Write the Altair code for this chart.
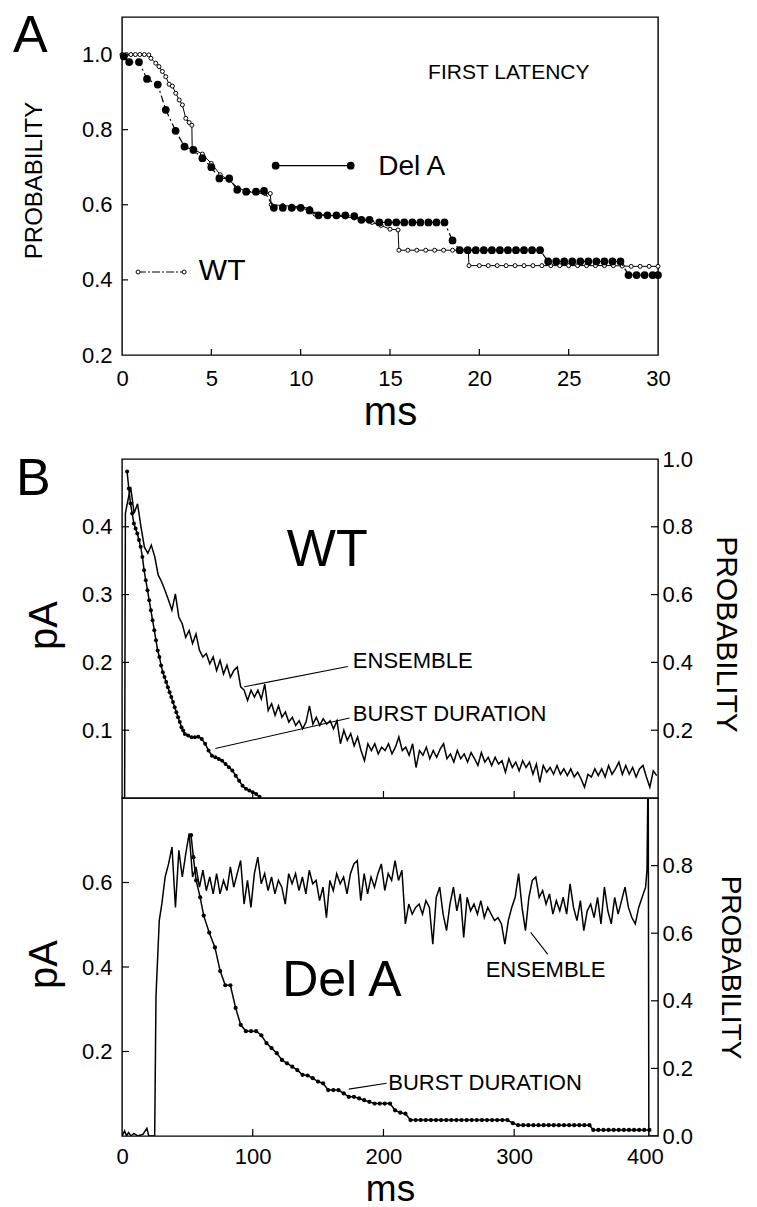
import altair as alt
import pandas as pd

FONT = "Liberation Sans"

# ---------------- Panel A : first latency (ms, probability) ----------------
A_WT = [(0.0, 1.0), (0.25, 1.0), (0.5, 1.0), (0.75, 1.0), (1.0, 1.0), (1.25, 1.0), (1.5, 0.999),
        (1.62, 0.99), (1.89, 0.977), (2.07, 0.968), (2.26, 0.955), (2.45, 0.941), (2.64, 0.921),
        (2.82, 0.916), (3.01, 0.897), (3.2, 0.879), (3.38, 0.866), (3.57, 0.83), (3.76, 0.819),
        (3.91, 0.812), (3.93, 0.75), (4.5, 0.735), (5.0, 0.71), (5.5, 0.68), (6.0, 0.665),
        (6.5, 0.645), (7.0, 0.635), (7.5, 0.632), (8.0, 0.63), (8.3, 0.63), (8.35, 0.60),
        (9.0, 0.598), (9.5, 0.596), (10.0, 0.595), (10.5, 0.59), (10.8, 0.575), (11.5, 0.572),
        (12.0, 0.57), (12.5, 0.568), (13.0, 0.565), (13.5, 0.56), (14.0, 0.553), (14.5, 0.545),
        (15.0, 0.535), (15.45, 0.533), (15.5, 0.479), (16.0, 0.479), (16.5, 0.479), (17.0, 0.479),
        (17.5, 0.479), (18.0, 0.479), (18.5, 0.479), (19.0, 0.479), (19.38, 0.479), (19.42, 0.438),
        (20.0, 0.438), (20.5, 0.438), (21.0, 0.438), (21.5, 0.438), (22.0, 0.438), (22.5, 0.438),
        (23.0, 0.438), (23.5, 0.438), (24.0, 0.438), (24.5, 0.438), (25.0, 0.438), (25.5, 0.438),
        (26.0, 0.438), (26.5, 0.438), (27.0, 0.438), (27.5, 0.438), (28.0, 0.437), (28.5, 0.436),
        (29.0, 0.436), (29.5, 0.436), (30.0, 0.436)]

A_DELA = [(0.1, 0.995), (0.4, 0.98), (0.95, 0.98), (1.4, 0.935), (2.0, 0.92), (2.45, 0.853),
          (3.0, 0.797), (3.5, 0.755), (4.0, 0.746), (4.5, 0.724), (5.0, 0.70), (5.45, 0.67),
          (6.0, 0.67), (6.45, 0.64), (6.95, 0.635), (7.5, 0.635), (7.95, 0.637), (8.5, 0.592),
          (9.0, 0.592), (9.5, 0.592), (10.0, 0.592), (10.5, 0.585), (11.0, 0.572), (11.5, 0.572),
          (12.0, 0.572), (12.5, 0.572), (13.0, 0.57), (13.4, 0.56), (13.85, 0.56), (14.4, 0.553),
          (14.9, 0.553), (15.35, 0.553), (15.8, 0.553), (16.25, 0.553), (16.7, 0.553), (17.15, 0.553),
          (17.6, 0.553), (18.05, 0.553), (18.5, 0.505), (18.9, 0.479), (19.35, 0.479), (19.8, 0.479),
          (20.25, 0.479), (20.7, 0.479), (21.15, 0.479), (21.6, 0.479), (22.05, 0.479), (22.5, 0.479),
          (22.95, 0.479), (23.4, 0.479), (23.85, 0.449), (24.3, 0.449), (24.75, 0.449), (25.2, 0.449),
          (25.65, 0.449), (26.1, 0.449), (26.55, 0.449), (27.0, 0.449), (27.45, 0.449), (27.9, 0.449),
          (28.35, 0.413), (28.8, 0.413), (29.25, 0.413), (29.7, 0.413), (30.0, 0.413)]

A_LEG_DELA = [(8.60, 0.704), (12.80, 0.704)]
A_LEG_WT = [(0.90, 0.421), (3.48, 0.421)]
A_TEXT_CENTER = [("FIRST LATENCY", 21.65, 0.952, 21)]
A_TEXT_LEFT = [("Del A", 14.34, 0.700, 28), ("WT", 4.30, 0.424, 30)]
A_X_VALUES = [0, 5, 10, 15, 20, 25, 30]
A_Y_VALUES = [0.2, 0.4, 0.6, 0.8, 1.0]
A_X_TICKS = [5, 10, 15, 20, 25]
A_Y_TICKS = [0.4, 0.6, 0.8, 1.0]

# ---------------- Panel B, WT (ms, pA / probability) ----------------
WT_ENS_HEAD = [(0.0, 0.0), (2.0, 0.0), (2.6, 0.42)]
WT_ENS_T0, WT_ENS_DT = 4.0, 2.63   # sampling clock of the trace
WT_ENS = [0.434, 0.459, 0.420, 0.434, 0.400, 0.370, 0.361, 0.373, 0.356, 0.329,
          0.319, 0.306, 0.292, 0.277, 0.301, 0.267, 0.257, 0.237, 0.247, 0.228,
          0.242, 0.218, 0.208, 0.213, 0.198, 0.208, 0.188, 0.203, 0.183, 0.196,
          0.178, 0.188, 0.193, 0.164, 0.159, 0.144, 0.159, 0.149, 0.159, 0.146,
          0.168, 0.129, 0.139, 0.122, 0.136, 0.119, 0.127, 0.112, 0.119, 0.107,
          0.114, 0.102, 0.112, 0.136, 0.109, 0.119, 0.107, 0.117, 0.109, 0.114,
          0.102, 0.114, 0.080, 0.100, 0.085, 0.095, 0.077, 0.090, 0.070, 0.055,
          0.080, 0.070, 0.080, 0.065, 0.075, 0.070, 0.080, 0.065, 0.075, 0.090,
          0.070, 0.075, 0.063, 0.080, 0.045, 0.070, 0.063, 0.075, 0.058, 0.070,
          0.060, 0.072, 0.080, 0.058, 0.065, 0.053, 0.070, 0.058, 0.065, 0.053,
          0.067, 0.058, 0.048, 0.067, 0.053, 0.060, 0.048, 0.060, 0.050, 0.055,
          0.038, 0.058, 0.045, 0.053, 0.040, 0.055, 0.045, 0.053, 0.035, 0.050,
          0.023, 0.048, 0.038, 0.045, 0.035, 0.048, 0.035, 0.043, 0.033, 0.043,
          0.031, 0.038, 0.028, 0.016, 0.035, 0.031, 0.043, 0.033, 0.043, 0.031,
          0.048, 0.035, 0.043, 0.053, 0.035, 0.048, 0.035, 0.045, 0.031, 0.043,
          0.048, 0.031, 0.016, 0.040, 0.033]

WT_BURST = [(3.9, 0.963), (5.2, 0.913), (6.5, 0.869), (7.8, 0.839), (9.1, 0.810), (10.4, 0.795),
            (11.7, 0.780), (13.0, 0.761), (14.3, 0.741), (15.6, 0.711), (16.9, 0.672), (18.2, 0.642),
            (19.5, 0.613), (20.8, 0.583), (22.1, 0.554), (23.4, 0.524), (24.7, 0.495), (26.0, 0.465),
            (27.3, 0.435), (28.6, 0.416), (29.9, 0.391), (31.2, 0.371), (32.5, 0.357), (33.8, 0.342),
            (35.1, 0.327), (36.4, 0.312), (37.7, 0.298), (39.0, 0.283), (40.3, 0.268), (41.6, 0.253),
            (42.9, 0.238), (44.2, 0.224), (45.5, 0.209), (46.8, 0.199), (48.1, 0.189), (50.6, 0.184),
            (53.2, 0.179), (55.8, 0.179), (58.4, 0.181), (61.0, 0.174), (63.6, 0.160), (66.2, 0.140),
            (68.8, 0.125), (71.4, 0.120), (74.0, 0.115), (76.6, 0.110), (79.2, 0.100), (81.8, 0.091),
            (84.4, 0.081), (87.0, 0.066), (89.6, 0.051), (92.2, 0.036), (94.8, 0.027), (97.4, 0.022),
            (100.0, 0.017), (102.6, 0.012), (105.2, 0.004)]

WT_TEXT_CENTER = [("WT", 157, 0.366, 52)]
WT_TEXT_LEFT = [("ENSEMBLE", 176.6, 0.202, 22), ("BURST DURATION", 176.6, 0.124, 22)]
WT_LEADERS = [(172.7, 0.194, 93.5, 0.164), (174.0, 0.118, 71.4, 0.073)]
WT_LEFT_VALUES = [0.1, 0.2, 0.3, 0.4]
WT_RIGHT_VALUES = [0.2, 0.4, 0.6, 0.8, 1.0]
WT_RIGHT_TICKS = [0.2, 0.4, 0.6, 0.8]

# ---------------- Panel B, Del A ----------------
DELA_ENS_HEAD = [(0.0, 0.0), (2.0, 0.012), (3.5, 0.0), (5.0, 0.008), (7.0, 0.0), (9.0, 0.006),
                 (12.0, 0.0), (16.0, 0.004), (19.0, 0.018), (20.5, 0.0), (25.0, 0.0), (26.0, 0.33),
                 (28.5, 0.51), (30.5, 0.55)]
DELA_ENS_T0, DELA_ENS_DT = 33.0, 2.625   # sampling clock of the trace
DELA_ENS = [0.613, 0.644, 0.684, 0.541, 0.676, 0.613, 0.668, 0.716, 0.613, 0.637,
            0.589, 0.629, 0.581, 0.613, 0.573, 0.621, 0.573, 0.605, 0.581, 0.637,
            0.589, 0.621, 0.652, 0.549, 0.605, 0.541, 0.621, 0.660, 0.597, 0.621,
            0.581, 0.613, 0.573, 0.605, 0.589, 0.549, 0.621, 0.597, 0.621, 0.581,
            0.613, 0.573, 0.629, 0.597, 0.605, 0.557, 0.589, 0.517, 0.605, 0.581,
            0.621, 0.597, 0.613, 0.573, 0.621, 0.644, 0.652, 0.557, 0.621, 0.573,
            0.613, 0.589, 0.621, 0.644, 0.581, 0.621, 0.605, 0.652, 0.605, 0.629,
            0.502, 0.549, 0.525, 0.541, 0.549, 0.525, 0.557, 0.541, 0.454, 0.565,
            0.589, 0.525, 0.486, 0.549, 0.589, 0.533, 0.573, 0.470, 0.565, 0.533,
            0.549, 0.525, 0.557, 0.517, 0.541, 0.525, 0.510, 0.517, 0.502, 0.454,
            0.510, 0.541, 0.565, 0.621, 0.541, 0.486, 0.565, 0.605, 0.613, 0.565,
            0.581, 0.549, 0.573, 0.525, 0.557, 0.533, 0.565, 0.525, 0.597, 0.541,
            0.510, 0.557, 0.486, 0.533, 0.549, 0.517, 0.565, 0.502, 0.589, 0.533,
            0.502, 0.565, 0.525, 0.557, 0.589, 0.541, 0.517, 0.502, 0.541, 0.565,
            0.589]
DELA_ENS_TAIL = [(401.6, 0.63), (402.5, 0.90), (403.0, 0.0), (410.0, 0.0)]

DELA_BURST = [(52.8, 0.890), (54.6, 0.825), (56.7, 0.756), (59.8, 0.706), (62.5, 0.652), (66.7, 0.602),
              (71.1, 0.558), (75.1, 0.488), (79.0, 0.446), (82.9, 0.446), (86.9, 0.379), (90.8, 0.329),
              (94.8, 0.310), (98.7, 0.310), (102.6, 0.310), (106.6, 0.298), (110.5, 0.275), (114.4, 0.260),
              (118.4, 0.245), (122.3, 0.225), (126.2, 0.215), (130.2, 0.205), (134.1, 0.195), (138.1, 0.181),
              (142.0, 0.179), (145.9, 0.171), (149.9, 0.161), (153.8, 0.156), (157.7, 0.136), (161.7, 0.136),
              (165.6, 0.136), (169.6, 0.126), (173.5, 0.116), (177.4, 0.116), (181.4, 0.111), (185.3, 0.106),
              (189.2, 0.101), (193.2, 0.096), (197.1, 0.096), (201.0, 0.096), (205.0, 0.096), (208.9, 0.076),
              (212.9, 0.069), (216.8, 0.066), (220.7, 0.047), (224.6, 0.047), (228.5, 0.047), (232.4, 0.047),
              (236.3, 0.047), (240.2, 0.047), (244.1, 0.047), (248.0, 0.047), (251.9, 0.047), (255.8, 0.047),
              (259.7, 0.047), (263.6, 0.047), (267.5, 0.047), (271.4, 0.047), (275.3, 0.047), (279.2, 0.047),
              (283.1, 0.047), (287.0, 0.047), (290.9, 0.047), (294.8, 0.047), (299.0, 0.038), (303.0, 0.032),
              (306.9, 0.032), (310.8, 0.032), (314.7, 0.032), (318.6, 0.032), (322.5, 0.032), (326.4, 0.032),
              (330.3, 0.032), (334.2, 0.032), (338.1, 0.032), (342.0, 0.032), (345.9, 0.032), (349.8, 0.032),
              (353.7, 0.032), (357.6, 0.032), (360.5, 0.018), (364.4, 0.018), (368.3, 0.018), (372.2, 0.018),
              (376.1, 0.018), (380.0, 0.018), (383.9, 0.018), (387.8, 0.018), (391.7, 0.018), (395.6, 0.018),
              (399.5, 0.018), (403.4, 0.018)]

DELA_TEXT_CENTER = [("Del A", 168.2, 0.368, 50), ("ENSEMBLE", 324.0, 0.394, 22)]
DELA_TEXT_LEFT = [("BURST DURATION", 203.7, 0.125, 22)]
DELA_LEADERS = [(325.7, 0.430, 312.6, 0.482), (202.4, 0.125, 173.5, 0.111)]
DELA_LEFT_VALUES = [0.2, 0.4, 0.6]
DELA_RIGHT_VALUES = [0.0, 0.2, 0.4, 0.6, 0.8]
DELA_RIGHT_TICKS = [0.2, 0.4, 0.6, 0.8]
B_X_VALUES = [0, 100, 200, 300, 400]
B_X_TICKS = [100, 200, 300]


# ---------------- helpers ----------------
def pairs_df(pairs):
    d = pd.DataFrame(pairs, columns=["t", "v"])
    d["i"] = range(len(d))
    return d


def trace_df(head, t0, dt, values, tail=()):
    rows = list(head) + [(round(t0 + dt * k, 3), v) for k, v in enumerate(values)] + list(tail)
    return pairs_df(rows)


def text_df(rows):
    return pd.DataFrame(rows, columns=["lab", "t", "v", "s"])


def leader_df(rows):
    return pd.DataFrame(rows, columns=["t", "v", "t2", "v2"])


def sc(domain):
    return alt.Scale(domain=domain, nice=False, zero=False)


# ---------------- Panel A ----------------
WA, HA = 536, 338
xA = alt.X("t:Q", scale=sc([0, 30]),
           axis=alt.Axis(values=A_X_VALUES, format="d", title="ms", titleFontSize=40,
                         labelPadding=13, titleY=69, titleBaseline="alphabetic", labelFlush=False))
yA = alt.Y("v:Q", scale=sc([0.2, 1.1]),
           axis=alt.Axis(values=A_Y_VALUES, format=".1f", title="PROBABILITY", titleFontSize=24,
                         titleAngle=270, titleX=-81, titleY=163, titleAlign="center",
                         titleBaseline="alphabetic", labelPadding=10))

dA_wt = pairs_df(A_WT)
dA_dela = pairs_df(A_DELA)
a_layers = [
    alt.Chart(dA_wt).mark_line(color="black", strokeWidth=1).encode(x=xA, y=yA, order="i:Q"),
    alt.Chart(dA_wt).mark_point(shape="circle", filled=True, fill="white", stroke="black",
                                strokeWidth=1, size=16, opacity=1).encode(x=xA, y=yA),
    alt.Chart(dA_dela).mark_line(color="black", strokeWidth=1.2, strokeDash=[7, 3, 2, 3]).encode(
        x=xA, y=yA, order="i:Q"),
    alt.Chart(dA_dela).mark_circle(color="black", size=60, opacity=1).encode(x=xA, y=yA),
    alt.Chart(pairs_df(A_LEG_DELA)).mark_line(color="black", strokeWidth=1.2).encode(x=xA, y=yA),
    alt.Chart(pairs_df(A_LEG_DELA)).mark_circle(color="black", size=60, opacity=1).encode(x=xA, y=yA),
    alt.Chart(pairs_df(A_LEG_WT)).mark_line(color="black", strokeWidth=1,
                                            strokeDash=[8, 2, 2, 2]).encode(x=xA, y=yA),
    alt.Chart(pairs_df(A_LEG_WT)).mark_point(shape="circle", filled=True, fill="white", stroke="black",
                                             strokeWidth=1, size=16, opacity=1).encode(x=xA, y=yA),
    alt.Chart(text_df(A_TEXT_CENTER)).mark_text(font=FONT, align="center", baseline="middle",
                                                color="black").encode(
        x=xA, y=yA, text="lab:N", size=alt.Size("s:Q", scale=None)),
    alt.Chart(text_df(A_TEXT_LEFT)).mark_text(font=FONT, align="left", baseline="middle",
                                              color="black").encode(
        x=xA, y=yA, text="lab:N", size=alt.Size("s:Q", scale=None)),
    alt.Chart(pd.DataFrame({"t": A_X_TICKS})).mark_rule(color="black", strokeWidth=1.2).encode(
        x=xA, y=alt.value(HA), y2=alt.value(HA - 6)),
    alt.Chart(pd.DataFrame({"v": A_Y_TICKS})).mark_rule(color="black", strokeWidth=1.2).encode(
        y=yA, x=alt.value(0), x2=alt.value(6)),
    alt.Chart(pd.DataFrame({"lab": ["A"]})).mark_text(font=FONT, fontSize=52, align="left",
                                                      baseline="alphabetic", color="black").encode(
        text="lab:N", x=alt.value(-109), y=alt.value(35)),
]
panel_a = alt.layer(*a_layers).properties(width=WA, height=HA)

# ---------------- Panel B ----------------
WB, HB1, HB2 = 536, 339, 338
xB_none = alt.X("t:Q", scale=sc([0, 410]), axis=None)
xB_axis = alt.X("t:Q", scale=sc([0, 410]),
                axis=alt.Axis(values=B_X_VALUES, format="d", title="ms", titleFontSize=37,
                              labelPadding=10, titleY=64, titleBaseline="alphabetic", labelFlush=False))


def y_plain(field, domain):
    return alt.Y(f"{field}:Q", scale=sc(domain), axis=None)


def b_panel(xenc, ens, burst, pa_dom, pa_axis, pr_axis, left_ticks, right_ticks,
            t_center, t_left, leaders, height, letter=None, burst_size=16):
    layers = [
        alt.Chart(ens).mark_line(color="black", strokeWidth=1.5, clip=True).encode(
            x=xenc, y=alt.Y("v:Q", scale=sc(pa_dom), axis=pa_axis), order="i:Q"),
        alt.Chart(burst).mark_line(color="black", strokeWidth=1.5).encode(
            x=xenc, y=alt.Y("v:Q", scale=sc([0, 1]), axis=pr_axis), order="i:Q"),
        alt.Chart(burst).mark_circle(color="black", size=burst_size, opacity=1).encode(
            x=xenc, y=y_plain("v", [0, 1])),
        alt.Chart(leader_df(leaders)).mark_rule(color="black", strokeWidth=1.1).encode(
            x=xenc, x2="t2:Q", y=y_plain("v", pa_dom), y2="v2:Q"),
        alt.Chart(text_df(t_center)).mark_text(font=FONT, align="center", baseline="middle",
                                               color="black").encode(
            x=xenc, y=y_plain("v", pa_dom), text="lab:N", size=alt.Size("s:Q", scale=None)),
        alt.Chart(text_df(t_left)).mark_text(font=FONT, align="left", baseline="middle",
                                             color="black").encode(
            x=xenc, y=y_plain("v", pa_dom), text="lab:N", size=alt.Size("s:Q", scale=None)),
        alt.Chart(pd.DataFrame({"v": left_ticks})).mark_rule(color="black", strokeWidth=1.2).encode(
            y=y_plain("v", pa_dom), x=alt.value(0), x2=alt.value(7)),
        alt.Chart(pd.DataFrame({"v": right_ticks})).mark_rule(color="black", strokeWidth=1.2).encode(
            y=y_plain("v", [0, 1]), x=alt.value(WB - 7), x2=alt.value(WB)),
        alt.Chart(pd.DataFrame({"t": B_X_TICKS})).mark_rule(color="black", strokeWidth=1.2).encode(
            x=xenc, y=alt.value(height), y2=alt.value(height - 7)),
    ]
    if letter:
        layers.append(alt.Chart(pd.DataFrame({"lab": [letter]})).mark_text(
            font=FONT, fontSize=52, align="left", baseline="alphabetic", color="black").encode(
            text="lab:N", x=alt.value(-106), y=alt.value(36)))
    return alt.layer(*layers).resolve_scale(y="independent").properties(width=WB, height=height)


wt_pa_axis = alt.Axis(values=WT_LEFT_VALUES, format=".1f", title="pA", titleFontSize=40, orient="left",
                      titleAngle=270, titleX=-66, titleY=166, titleAlign="center",
                      titleBaseline="alphabetic", labelPadding=10)
wt_pr_axis = alt.Axis(values=WT_RIGHT_VALUES, format=".1f", title="PROBABILITY", titleFontSize=30,
                      orient="right", titleAngle=90, titleX=58, titleY=175, titleAlign="center",
                      titleBaseline="alphabetic", labelPadding=4)
dela_pa_axis = alt.Axis(values=DELA_LEFT_VALUES, format=".1f", title="pA", titleFontSize=40, orient="left",
                        titleAngle=270, titleX=-66, titleY=166, titleAlign="center",
                        titleBaseline="alphabetic", labelPadding=10)
dela_pr_axis = alt.Axis(values=DELA_RIGHT_VALUES, format=".1f", title="PROBABILITY", titleFontSize=28,
                        orient="right", titleAngle=90, titleX=63, titleY=169, titleAlign="center",
                        titleBaseline="alphabetic", labelPadding=4)

wt_ens = trace_df(WT_ENS_HEAD, WT_ENS_T0, WT_ENS_DT, WT_ENS)
dela_ens = trace_df(DELA_ENS_HEAD, DELA_ENS_T0, DELA_ENS_DT, DELA_ENS, DELA_ENS_TAIL)

panel_wt = b_panel(xB_none, wt_ens, pairs_df(WT_BURST), [0, 0.5], wt_pa_axis, wt_pr_axis,
                   WT_LEFT_VALUES, WT_RIGHT_TICKS, WT_TEXT_CENTER, WT_TEXT_LEFT, WT_LEADERS, HB1,
                   letter="B", burst_size=16)
panel_dela = b_panel(xB_axis, dela_ens, pairs_df(DELA_BURST), [0, 0.8], dela_pa_axis, dela_pr_axis,
                     DELA_LEFT_VALUES, DELA_RIGHT_TICKS, DELA_TEXT_CENTER, DELA_TEXT_LEFT, DELA_LEADERS,
                     HB2, burst_size=18)

panel_b = alt.vconcat(panel_wt, panel_dela, spacing=0, bounds="flush")

chart = alt.vconcat(panel_a, panel_b, spacing=104, bounds="flush").properties(
    padding={"left": 12, "top": 9, "right": 6, "bottom": 0},
    background="white",
).configure_view(
    stroke="black", strokeWidth=1.4
).configure_axis(
    labelFont=FONT, titleFont=FONT, labelFontSize=22, labelColor="black", titleColor="black",
    titleFontWeight="normal", domain=False, ticks=False, tickSize=0, grid=False, labelOverlap=False
)

chart.save("out.html", embed_options={"renderer": "svg", "actions": False})
